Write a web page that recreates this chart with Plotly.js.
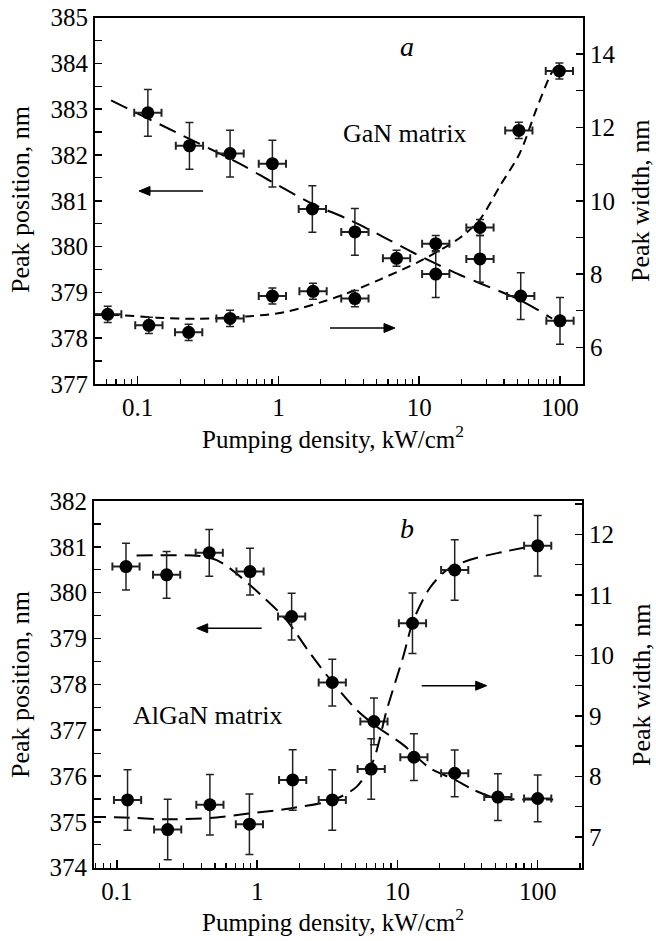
<!DOCTYPE html>
<html>
<head>
<meta charset="utf-8">
<script src="https://cdn.plot.ly/plotly-3.0.1.min.js"></script>
<style>html,body{margin:0;padding:0;background:#fff;font-family:'Liberation Serif';}#chart{width:656px;height:941px;}</style>
</head>
<body>
<div id="chart"></div>
<script>
// ---------- Panel a: GaN matrix ----------
var posA_x = [0.118, 0.233, 0.453, 0.905, 1.74, 3.49, 13.1, 27, 52.6, 100];
var posA_y = [382.92, 382.2, 382.03, 381.81, 380.82, 380.32, 379.4, 379.73, 378.92, 378.38];
var posA_err = 0.51;

var widA_x = [0.0612, 0.12, 0.23, 0.453, 0.905, 1.76, 3.49, 6.9, 13.1, 27, 51, 99];
var widA_y = [6.90, 6.60, 6.41, 6.79, 7.40, 7.53, 7.33, 8.43, 8.83, 9.27, 11.92, 13.54];
var widA_err = 0.22;

var fitPosA_x = [0.0646, 0.2, 0.53, 0.9, 1.72, 3.05, 5.25, 9.85, 19.5, 27, 52, 88];
var fitPosA_y = [383.19, 382.45, 381.81, 381.41, 380.94, 380.61, 380.25, 379.81, 379.38, 379.2, 378.83, 378.43];

var fitWidA_x = [0.05, 0.075, 0.136, 0.263, 0.63, 1.14, 2.73, 5.25, 10.1, 19.5, 27, 37.4, 52, 68, 85, 92];
var fitWidA_y = [6.9, 6.88, 6.81, 6.78, 6.85, 6.97, 7.40, 7.85, 8.35, 8.99, 9.49, 10.4, 11.31, 12.5, 13.41, 13.64];

// ---------- Panel b: AlGaN matrix ----------
var posB_x = [0.116, 0.226, 0.455, 0.889, 1.76, 3.43, 6.8, 13.1, 25.6, 52, 100];
var posB_y = [380.57, 380.39, 380.87, 380.46, 379.48, 378.04, 377.19, 376.41, 376.06, 375.54, 375.51];
var posB_err = 0.51;

var widB_x = [0.119, 0.23, 0.46, 0.88, 1.79, 3.43, 6.5, 12.8, 25.6, 100];
var widB_y = [7.61, 7.12, 7.53, 7.21, 7.94, 7.61, 8.12, 10.53, 11.41, 11.81];
var widB_err = 0.5;

var fitPosB_x = [0.138, 0.39, 0.514, 0.64, 1.1, 1.62, 2.38, 3.49, 5.13, 7.1, 11, 17.1, 26, 34.8, 51, 71, 129];
var fitPosB_y = [380.81, 380.8, 380.71, 380.53, 379.91, 379.40, 378.68, 378.02, 377.44, 377.08, 376.68, 376.17, 375.91, 375.70, 375.51, 375.49, 375.49];

var fitWidB_x = [0.064, 0.111, 0.226, 0.46, 0.84, 1.71, 3.49, 5.13, 6.7, 8.4, 11, 13, 17.1, 22.5, 33, 57, 93];
var fitWidB_y = [7.33, 7.32, 7.29, 7.31, 7.38, 7.47, 7.61, 7.83, 8.25, 9.10, 9.98, 10.58, 11.12, 11.41, 11.58, 11.71, 11.81];

// horizontal error bars: multiplicative factor on pumping density
var xErrFactor = 1.25;

var tickVals = [0.1, 1, 10, 100];
var tickText = ['0.1', '1', '10', '100'];

var FONT = 'Liberation Serif';

function errUp(xs) { return xs.map(function (v) { return v * (xErrFactor - 1); }); }
function errDn(xs) { return xs.map(function (v) { return v * (1 - 1 / xErrFactor); }); }

function pts(xs, ys, yerr, xa, ya) {
  return {
    type: 'scatter', mode: 'markers', x: xs, y: ys, xaxis: xa, yaxis: ya,
    marker: { color: '#000', size: 13 },
    error_y: { type: 'constant', value: yerr, color: '#222', thickness: 1.5, width: 4 },
    error_x: { type: 'data', symmetric: false, array: errUp(xs), arrayminus: errDn(xs), color: '#222', thickness: 2, width: 4 },
    showlegend: false, hoverinfo: 'skip'
  };
}
function fit(xs, ys, xa, ya, dash) {
  return {
    type: 'scatter', mode: 'lines', x: xs, y: ys, xaxis: xa, yaxis: ya,
    line: { color: '#000', width: 2, dash: dash, shape: 'spline', smoothing: 0.8 },
    showlegend: false, hoverinfo: 'skip'
  };
}

var data = [
  fit(fitPosA_x, fitPosA_y, 'x', 'y', '18px,9px'),
  fit(fitWidA_x, fitWidA_y, 'x', 'y2', '9px,6px'),
  pts(posA_x, posA_y, posA_err, 'x', 'y'),
  pts(widA_x, widA_y, widA_err, 'x', 'y2'),
  fit(fitPosB_x, fitPosB_y, 'x2', 'y3', '16px,8px'),
  fit(fitWidB_x, fitWidB_y, 'x2', 'y4', '16px,8px'),
  pts(posB_x, posB_y, posB_err, 'x2', 'y3'),
  pts(widB_x, widB_y, widB_err, 'x2', 'y4')
];

var W = 656, H = 941;
function px(x) { return x / W; }
function py(y) { return 1 - y / H; }

function fnt(s) { return { family: FONT, size: s, color: '#000' }; }

function xAxis(anchor, dom, rng) {
  return {
    type: 'log', domain: dom, range: rng, anchor: anchor,
    tickmode: 'array', tickvals: tickVals, ticktext: tickText,
    ticks: 'inside', ticklen: 8, tickwidth: 1.5, tickcolor: '#000',
    minor: { dtick: 'D1', ticks: 'inside', ticklen: 5, tickwidth: 1.2, tickcolor: '#000' },
    showline: true, linewidth: 2, linecolor: '#000', mirror: true,
    showgrid: false, zeroline: false, tickfont: fnt(25), automargin: false
  };
}
function yAxis(anchor, dom, rng, dt, mdt, side, overlay) {
  var a = {
    domain: dom, range: rng, anchor: anchor, side: side,
    dtick: dt, tick0: 0,
    ticks: 'inside', ticklen: 7, tickwidth: 1.5, tickcolor: '#000',
    minor: { dtick: mdt, tick0: 0, ticks: 'inside', ticklen: 7, tickwidth: 1.2, tickcolor: '#000' },
    showline: true, linewidth: 2, linecolor: '#000',
    showgrid: false, zeroline: false, tickfont: fnt(25), automargin: false
  };
  if (overlay) a.overlaying = overlay;
  return a;
}

var domX = [px(95), px(583)];
var domXb = [px(94), px(582)];
var domYa = [py(384), py(17.5)];
var domYb = [py(867.7), py(501)];

function txt(x, y, t, size, angle) {
  var a = {
    xref: 'paper', yref: 'paper', x: px(x), y: py(y), text: t, showarrow: false,
    xanchor: 'center', yanchor: 'middle', font: fnt(size)
  };
  if (angle) a.textangle = angle;
  return a;
}
// arrows drawn as shapes: shaft line + filled head
function arrowShapes(x0, y0, x1, y1) {
  var dir = x1 > x0 ? 1 : -1;
  var hl = 11, hw = 4.5;
  var bx = x1 - dir * hl;
  return [
    { type: 'line', xref: 'paper', yref: 'paper', x0: px(x0), y0: py(y0), x1: px(bx), y1: py(y1),
      line: { color: '#000', width: 1.6 } },
    { type: 'path', xref: 'paper', yref: 'paper',
      path: 'M ' + px(x1) + ' ' + py(y1) + ' L ' + px(bx) + ' ' + py(y1 - hw) + ' L ' + px(bx) + ' ' + py(y1 + hw) + ' Z',
      fillcolor: '#000', line: { color: '#000', width: 1 } }
  ];
}

var shapes = [].concat(
  arrowShapes(203, 191, 139, 191),
  arrowShapes(330, 328, 395, 328),
  arrowShapes(261.7, 628.3, 196.7, 628.3),
  arrowShapes(421.7, 685.7, 486.7, 685.7)
);

var layout = {
  width: W, height: H,
  margin: { l: 0, r: 0, t: 0, b: 0, pad: 0 },
  paper_bgcolor: '#fff', plot_bgcolor: '#fff',
  showlegend: false,
  xaxis: xAxis('y', domX, [Math.log10(0.0497), Math.log10(145.7)]),
  yaxis: yAxis('x', domYa, [377, 385], 1, 0.5, 'left'),
  yaxis2: yAxis('x', domYa, [5, 15], 2, 1, 'right', 'y'),
  xaxis2: xAxis('y3', domXb, [Math.log10(0.0686), Math.log10(207)]),
  yaxis3: yAxis('x2', domYb, [374, 382], 1, 0.5, 'left'),
  yaxis4: yAxis('x2', domYb, [6.49, 12.55], 1, 0.5, 'right', 'y3'),
  shapes: shapes,
  annotations: [
    txt(406.7, 46.7, '<i>a</i>', 28),
    txt(404, 133, 'GaN matrix', 26),
    txt(20, 200, 'Peak position, nm', 26, -90),
    txt(641, 201, 'Peak width, nm', 26, -90),
    txt(333, 437, 'Pumping density, kW/cm<sup>2</sup>', 25),

    txt(406.7, 528.3, '<i>b</i>', 28),
    txt(207.5, 715, 'AlGaN matrix', 26),
    txt(20, 685, 'Peak position, nm', 26, -90),
    txt(641, 685, 'Peak width, nm', 26, -90),
    txt(333, 920, 'Pumping density, kW/cm<sup>2</sup>', 25)
  ]
};

Plotly.newPlot('chart', data, layout, { staticPlot: true, displayModeBar: false });
</script>
</body>
</html>
